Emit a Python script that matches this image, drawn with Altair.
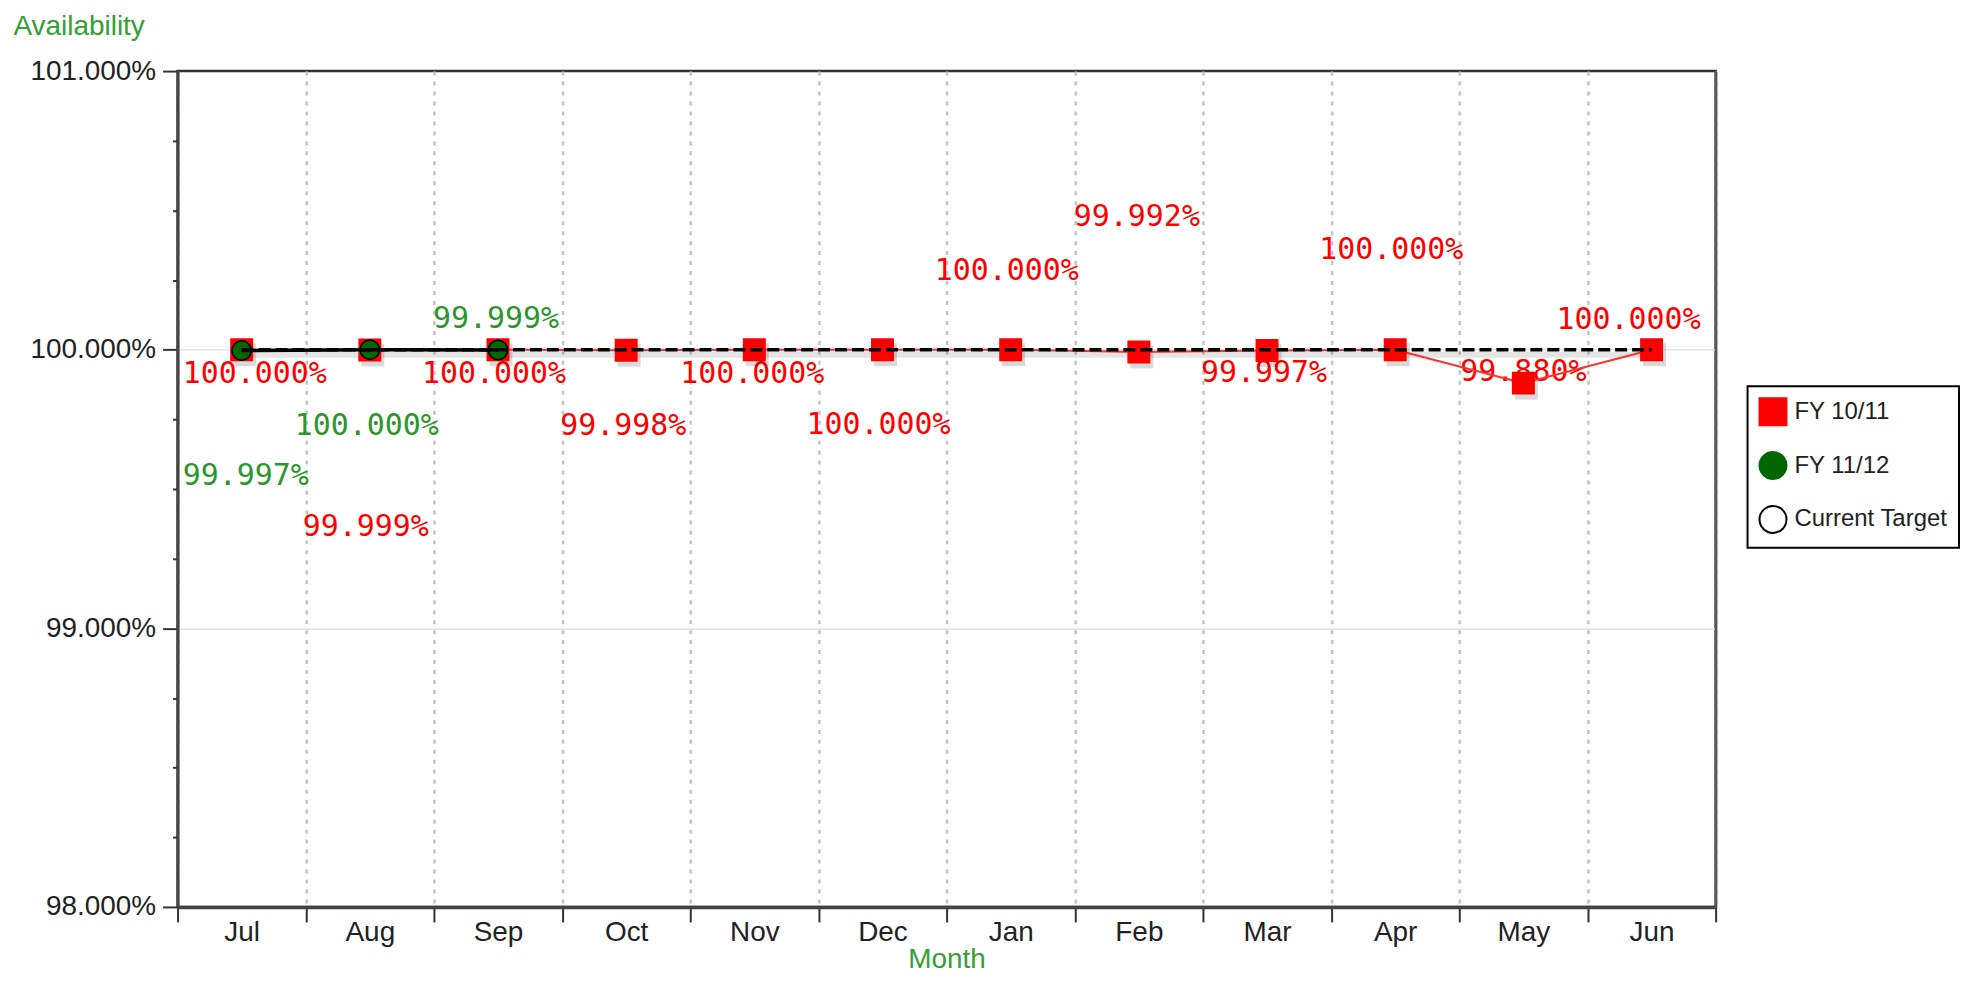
import altair as alt
import pandas as pd

# ---------------- data ----------------
months = ["Jul", "Aug", "Sep", "Oct", "Nov", "Dec", "Jan", "Feb", "Mar", "Apr", "May", "Jun"]
fy_1011 = [100.000, 99.999, 100.000, 99.998, 100.000, 100.000, 100.000, 99.992, 99.997, 100.000, 99.880, 100.000]
fy_1112_months = ["Jul", "Aug", "Sep"]
fy_1112 = [99.997, 100.000, 99.999]
target = [100.0, 100.0, 100.0, 100.0, 100.0, 100.0, 100.0, 100.0, 100.0, 100.0, 100.0, 100.0]
series_names = ["FY 10/11", "FY 11/12", "Current Target"]
y_ticks = [98.0, 98.25, 98.5, 98.75, 99.0, 99.25, 99.5, 99.75, 100.0, 100.25, 100.5, 100.75, 101.0]

# ---------------- label placement (style, pixels) ----------------
lab_1011_dx = [-59, -4, -4, -3, -2, -4, -4, -2, -3, -4, 0, -23]
lab_1011_dy = [24, 178, 24, 76, 24, 76, -79, -135, 23, -100, -11, -30]
lab_1011_align = ["left"] + ["center"] * 11
lab_1112_dx = [-59, -3, -2]
lab_1112_dy = [126, 77, -31]
lab_1112_align = ["left", "center", "center"]

RED = "#ff0000"
GREEN_FILL = "#006600"
GREEN_TEXT = "#2b962b"
TITLE_GREEN = "#33a033"

df_1011 = pd.DataFrame({"month": months, "value": fy_1011, "series": "FY 10/11",
                        "dx": lab_1011_dx, "dy": lab_1011_dy, "align": lab_1011_align})
df_1112 = pd.DataFrame({"month": fy_1112_months, "value": fy_1112, "series": "FY 11/12",
                        "dx": lab_1112_dx, "dy": lab_1112_dy, "align": lab_1112_align})
df_target = pd.DataFrame({"month": months, "value": target, "series": "Current Target"})

is_major = "abs(datum.value - round(datum.value)) < 0.001"
inner_major = "(" + is_major + ") && datum.value > 98.5 && datum.value < 100.5"

X = alt.X(
    "month:N",
    sort=months,
    scale=alt.Scale(type="band", domain=months, paddingInner=0, paddingOuter=0),
    axis=alt.Axis(
        title="Month",
        titleColor=TITLE_GREEN,
        titleFont="Liberation Sans",
        titleFontSize=28,
        titleFontWeight="normal",
        titleY=61,
        titleBaseline="alphabetic",
        labelAngle=0,
        labelFont="Liberation Sans",
        labelFontSize=28,
        labelColor="#222222",
        labelBaseline="alphabetic",
        labelPadding=19,
        tickBand="extent",
        tickSize=15,
        tickWidth=2,
        tickColor="#333333",
        domainColor="#444444",
        domainWidth=3.5,
        grid=True,
        gridColor="#c4c4c4",
        gridDash=[4, 6],
        gridWidth=2.5,
    ),
)

Y_SCALE = alt.Scale(domain=[98, 101], nice=False, zero=False)

Y_MAIN = alt.Y(
    "value:Q",
    scale=Y_SCALE,
    axis=alt.Axis(
        title="Availability",
        titleColor=TITLE_GREEN,
        titleFont="Liberation Sans",
        titleFontSize=28,
        titleFontWeight="normal",
        titleAngle=0,
        titleAlign="left",
        titleBaseline="alphabetic",
        titleX=-165,
        titleY=-37,
        values=y_ticks,
        labelExpr=is_major + " ? format(datum.value, '.3f') + '%' : ''",
        labelFont="Liberation Sans",
        labelFontSize=28,
        labelColor="#222222",
        labelPadding=7,
        tickSize={"condition": {"test": is_major, "value": 15}, "value": 5},
        tickWidth=2,
        tickColor="#333333",
        domainColor="#444444",
        domainWidth=3,
        grid=True,
        gridColor="#e2e2e2",
        gridWidth=1.5,
        gridOpacity={"condition": {"test": inner_major, "value": 1}, "value": 0},
    ),
)
Y = alt.Y("value:Q", scale=Y_SCALE, axis=None)
Y_RIGHT = alt.Y(
    "value:Q",
    scale=Y_SCALE,
    axis=alt.Axis(orient="right", title=None, labels=False, ticks=False, grid=False,
                  domainColor="#555555", domainWidth=2.5),
)

layers = []

# ---- axis-carrying invisible layers ----
layers.append(alt.Chart(df_target).mark_line(opacity=0).encode(x=X, y=Y_MAIN))
layers.append(alt.Chart(df_target).mark_line(opacity=0).encode(x=X, y=Y_RIGHT))

# ---- data labels (drawn first, markers may cover them) ----
for df, col in [(df_1011, RED), (df_1112, GREEN_TEXT)]:
    keys = df[["dx", "dy", "align"]].drop_duplicates().itertuples(index=False)
    for dx, dy, align in keys:
        sub = df[(df["dx"] == dx) & (df["dy"] == dy) & (df["align"] == align)][["month", "value", "series"]]
        layers.append(
            alt.Chart(sub)
            .transform_calculate(label="format(datum.value, '.3f') + '%'")
            .mark_text(font="DejaVu Sans Mono", fontSize=30, color=col,
                       dx=int(dx), dy=int(dy), align=align, baseline="middle")
            .encode(x=X, y=Y, text="label:N")
        )

# ---- shadows ----
layers.append(
    alt.Chart(df_target).mark_line(color="#000000", opacity=0.1, strokeWidth=6, xOffset=2, yOffset=5)
    .encode(x=X, y=Y)
)
layers.append(
    alt.Chart(df_1011).mark_point(shape="square", filled=True, color="#000000", opacity=0.15,
                                  size=529, xOffset=3, yOffset=5)
    .encode(x=X, y=Y)
)

# ---- FY 10/11 red line ----
layers.append(
    alt.Chart(df_1011).mark_line(color="#ff3030", strokeWidth=2).encode(x=X, y=Y)
)

# ---- FY 10/11 squares (carries the legend) ----
leg = alt.Legend(
    title=None, orient="none", legendX=1574, legendY=316,
    symbolSize=729, symbolStrokeWidth=2,
    labelFont="Liberation Sans", labelFontSize=24, labelColor="#222222", labelOffset=7,
    padding=11, rowPadding=19, strokeColor="#000000", fillColor="#ffffff",
)
layers.append(
    alt.Chart(df_1011).mark_point(filled=True, size=441, strokeWidth=2, opacity=1)
    .encode(
        x=X, y=Y,
        fill=alt.Fill("series:N", scale=alt.Scale(domain=series_names, range=[RED, GREEN_FILL, "#ffffff"]), legend=leg),
        shape=alt.Shape("series:N", scale=alt.Scale(domain=series_names, range=["square", "circle", "circle"]), legend=leg),
        stroke=alt.Stroke("series:N", scale=alt.Scale(domain=series_names, range=[RED, GREEN_FILL, "#000000"]), legend=leg),
    )
)

# ---- FY 11/12 circles ----
layers.append(
    alt.Chart(df_1112).mark_point(shape="circle", filled=True, fill=GREEN_FILL, stroke="#000000",
                                  strokeWidth=1.5, size=380, opacity=1)
    .encode(x=X, y=Y)
)

# ---- FY 11/12 line (black solid) ----
layers.append(
    alt.Chart(df_1112).mark_line(color="#000000", strokeWidth=3.5).encode(x=X, y=Y)
)

# ---- Current target dashed line ----
layers.append(
    alt.Chart(df_target).mark_line(color="#000000", strokeWidth=3.5, strokeDash=[12, 5]).encode(x=X, y=Y)
)

chart = (
    alt.layer(*layers)
    .resolve_axis(y="independent")
    .properties(
        width=1542,
        height=838,
        autosize=alt.AutoSizeParams(type="none"),
        padding={"left": 170, "top": 62, "right": 248, "bottom": 68},
        background="#ffffff",
    )
    .configure_view(stroke="#333333", strokeWidth=2.5)
    .configure_legend(strokeWidth=2)
)

chart.save("out.html", embed_options={"renderer": "svg", "actions": False})
